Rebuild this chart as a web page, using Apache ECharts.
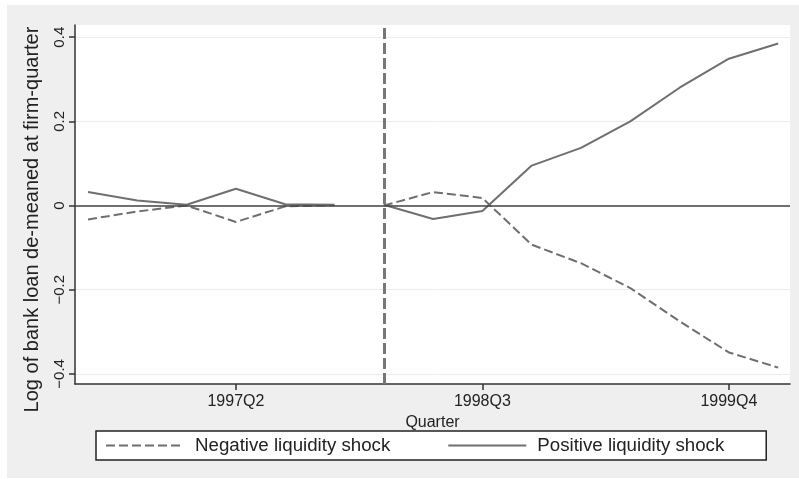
<!DOCTYPE html>
<html>
<head>
<meta charset="utf-8">
<script src="https://cdn.jsdelivr.net/npm/echarts@6/dist/echarts.min.js"></script>
<style>
  html, body { margin: 0; padding: 0; background: #ffffff; }
  #bg { position: absolute; left: 7px; top: 5px; width: 792px; height: 473px; background: #efefef; }
  #chart { position: absolute; left: 0; top: 0; width: 799px; height: 479px; }
</style>
</head>
<body>
<div id="bg"></div>
<div id="chart"></div>
<script>
// Quarters on the x axis
const quarters = ['1996Q3','1996Q4','1997Q1','1997Q2','1997Q3','1997Q4',
                  '1998Q1','1998Q2','1998Q3','1998Q4','1999Q1','1999Q2',
                  '1999Q3','1999Q4','2000Q1'];
const xTickLabels = ['1997Q2','1998Q3','1999Q4'];
const yTickValues = [-0.4, -0.2, 0, 0.2, 0.4];
const shockQuarter = '1998Q1';
const breakAfterQuarter = '1997Q4';

// Series values
const negativeShock = [-0.033, -0.014, 0.000, -0.039, -0.002, 0.001,
                        0.000, 0.032, 0.018, -0.093, -0.137, -0.196,
                       -0.275, -0.349, -0.385];
const positiveShock = [0.032, 0.012, 0.002, 0.040, 0.003, 0.002,
                       0.002, -0.032, -0.013, 0.095, 0.137, 0.200,
                       0.280, 0.349, 0.385];

const seriesNames = ['Negative liquidity shock', 'Positive liquidity shock'];

function toPoints(values) {
  const pts = [];
  const brk = quarters.indexOf(breakAfterQuarter);
  values.forEach((v, i) => {
    pts.push([i, v]);
    if (i === brk) pts.push([i + 0.5, '-']);
  });
  return pts;
}

const textColor = '#222';
const lineColor = '#6f6f6f';

const chart = echarts.init(document.getElementById('chart'), null, { renderer: 'canvas' });
chart.setOption({
  backgroundColor: 'transparent',
  animation: false,
  textStyle: { fontFamily: 'Liberation Sans, Arial, sans-serif', color: textColor },
  grid: {
    left: 75, right: 9, top: 25, bottom: 95,
    show: true, backgroundColor: '#ffffff', borderWidth: 0
  },
  xAxis: {
    type: 'value',
    min: -0.264, max: 14.24,
    name: 'Quarter',
    nameLocation: 'middle',
    nameGap: 21,
    nameTextStyle: { fontSize: 16, color: textColor },
    axisLine: { show: true, onZero: false, lineStyle: { color: '#333', width: 1.5 } },
    axisTick: { show: true, length: 6, lineStyle: { color: '#333', width: 1.5 },
                customValues: xTickLabels.map(l => quarters.indexOf(l)) },
    axisLabel: { fontSize: 16, color: textColor, margin: 10,
                 customValues: xTickLabels.map(l => quarters.indexOf(l)),
                 formatter: v => quarters[Math.round(v)] },
    splitLine: { show: false }
  },
  yAxis: {
    type: 'value',
    min: -0.424, max: 0.429,
    name: 'Log of bank loan de-meaned at firm-quarter',
    nameLocation: 'middle',
    nameGap: 33,
    nameTextStyle: { fontSize: 20, color: textColor, padding: [0, 30, 0, 0] },
    axisLine: { show: true, onZero: false, lineStyle: { color: '#333', width: 1.5 } },
    axisTick: { show: true, length: 6, lineStyle: { color: '#333', width: 1.5 },
                customValues: yTickValues },
    axisLabel: { fontSize: 15, color: textColor, rotate: 90, margin: 8,
                 customValues: yTickValues,
                 formatter: v => (v < 0 ? '\u2212' + Math.abs(v) : String(v)) },
    splitLine: { show: true, lineStyle: { color: '#ececec', width: 1 } }
  },
  legend: {
    data: seriesNames,
    left: 96, top: 431,
    orient: 'horizontal',
    padding: [5, 42, 5, 9],
    itemGap: 57,
    itemWidth: 78,
    itemHeight: 14,
    backgroundColor: '#ffffff',
    borderColor: '#222',
    borderWidth: 1.5,
    itemStyle: { opacity: 0 },
    textStyle: { fontSize: 18.7, color: textColor, padding: [0, 0, 0, 6] }
  },
  series: [
    {
      name: seriesNames[0],
      type: 'line',
      data: toPoints(negativeShock),
      symbol: 'none',
      connectNulls: false,
      lineStyle: { color: lineColor, width: 2, type: [9, 4] },
      itemStyle: { color: lineColor },
      z: 3
    },
    {
      name: seriesNames[1],
      type: 'line',
      data: toPoints(positiveShock),
      symbol: 'none',
      connectNulls: false,
      lineStyle: { color: lineColor, width: 2, type: 'solid' },
      itemStyle: { color: lineColor },
      z: 3,
      markLine: {
        silent: true,
        symbol: 'none',
        label: { show: false },
        data: [
          { yAxis: 0, lineStyle: { color: '#444', width: 1.5, type: 'solid' } },
          { xAxis: quarters.indexOf(shockQuarter), lineStyle: { color: '#777', width: 3, type: [11, 4] } }
        ]
      }
    }
  ]
});
</script>
</body>
</html>
